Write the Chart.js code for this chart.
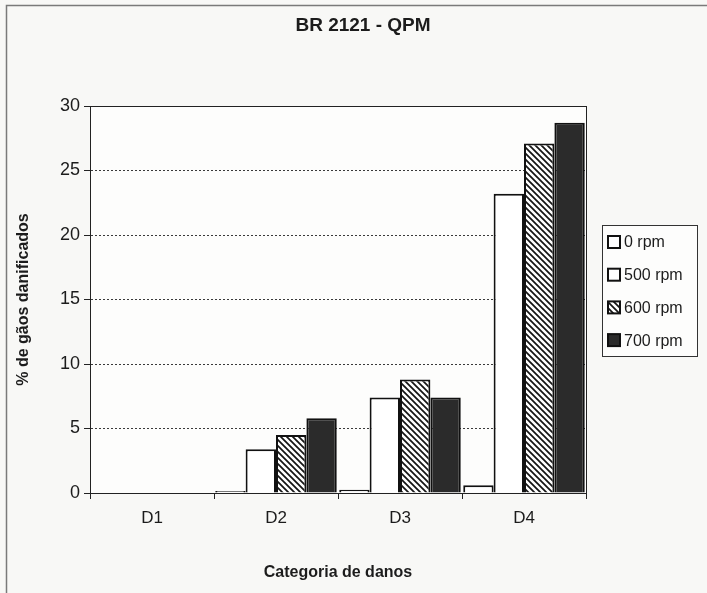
<!DOCTYPE html>
<html>
<head>
<meta charset="utf-8">
<script src="https://cdn.jsdelivr.net/npm/chart.js@4.4.1/dist/chart.umd.min.js"></script>
<style>
  html, body { margin: 0; padding: 0; background: #f8f8f6; }
  #wrap { width: 707px; height: 593px; }
</style>
</head>
<body>
<div id="wrap"><canvas id="chart" width="707" height="593"></canvas></div>
<script>
// values
const categories = ["D1", "D2", "D3", "D4"];
const seriesLabels = ["0 rpm", "500 rpm", "600 rpm", "700 rpm"];
const rpm0 = [0, 0.15, 0.25, 0.6];
const rpm500 = [0, 3.4, 7.4, 23.2];
const rpm600 = [0, 4.5, 8.8, 27.1];
const rpm700 = [0, 5.8, 7.4, 28.7];
const yMin = 0;
const yMax = 30;
const yStep = 5;
const chartTitle = "BR 2121 - QPM";

const FONT = "'Liberation Sans', Arial, sans-serif";
const INK = "#1c1c1c";

(function initChart() {
  const canvas = document.getElementById("chart");
  const ctx = canvas.getContext("2d");

  function hatchPattern() {
    const tile = document.createElement("canvas");
    tile.width = 6;
    tile.height = 6;
    const g = tile.getContext("2d");
    g.fillStyle = "#ffffff";
    g.fillRect(0, 0, 6, 6);
    g.strokeStyle = "#151515";
    g.lineWidth = 1.7;
    g.beginPath();
    g.moveTo(-1, -1); g.lineTo(7, 7);
    g.moveTo(-1, 5); g.lineTo(1, 7);
    g.moveTo(5, -1); g.lineTo(7, 1);
    g.stroke();
    return ctx.createPattern(tile, "repeat");
  }

  const fills = ["#ffffff", "#ffffff", hatchPattern(), "#2b2b2b"];
  const values = [rpm0, rpm500, rpm600, rpm700];

  const datasets = values.map((data, i) => ({
    label: seriesLabels[i],
    data: data,
    backgroundColor: fills[i],
    borderColor: "#111111",
    borderWidth: 2,
    categoryPercentage: 0.98,
    barPercentage: 1.0
  }));

  const frame = {
    id: "frame",
    beforeDraw(chart) {
      const c = chart.ctx;
      c.save();
      c.fillStyle = "#f8f8f6";
      c.fillRect(0, 0, chart.width, chart.height);
      const a = chart.chartArea;
      c.fillStyle = "#fdfdfc";
      c.fillRect(a.left, a.top, a.right - a.left, a.bottom - a.top);
      c.restore();
    },
    afterDraw(chart) {
      const c = chart.ctx;
      const a = chart.chartArea;
      c.save();
      // page border of the original chart object
      c.strokeStyle = "#7a7a7a";
      c.lineWidth = 1.5;
      c.beginPath();
      c.moveTo(6.5, chart.height);
      c.lineTo(6.5, 5.5);
      c.lineTo(chart.width, 5.5);
      c.stroke();
      // plot frame
      c.strokeStyle = "#222222";
      c.lineWidth = 1;
      c.strokeRect(Math.round(a.left) + 0.5, Math.round(a.top) + 0.5,
        Math.round(a.right - a.left), Math.round(a.bottom - a.top));

      // title, centred on the whole chart object (which runs past the page)
      c.fillStyle = INK;
      c.font = "bold 19px " + FONT;
      c.textAlign = "center";
      c.textBaseline = "middle";
      c.fillText(chartTitle, 363, 26);

      // boxed legend on the right
      const bx = 602, by = 225, bw = 95, bh = 131;
      c.textAlign = "left";
      c.strokeStyle = "#333333";
      c.lineWidth = 1;
      c.fillStyle = "#fdfdfc";
      c.fillRect(bx, by, bw, bh);
      c.strokeRect(bx + 0.5, by + 0.5, bw, bh);
      c.font = "16px " + FONT;
      chart.data.datasets.forEach((ds, i) => {
        const cy = by + 17 + i * 32.7;
        c.fillStyle = ds.backgroundColor;
        c.fillRect(608, cy - 6, 12, 12);
        c.strokeStyle = "#111111";
        c.lineWidth = 2;
        c.strokeRect(608, cy - 6, 12, 12);
        c.fillStyle = INK;
        c.fillText(ds.label, 624, cy + 1);
      });
      c.restore();
    }
  };

  new Chart(ctx, {
    type: "bar",
    data: { labels: categories, datasets: datasets },
    plugins: [frame],
    options: {
      responsive: false,
      animation: false,
      layout: { padding: { left: 10, right: 121, top: 106, bottom: 7 } },
      scales: {
        x: {
          offset: true,
          grid: {
            offset: true,
            drawOnChartArea: false,
            drawTicks: true,
            tickLength: 6,
            tickColor: "#222222"
          },
          border: { display: true, color: "#111111", width: 1 },
          ticks: {
            color: INK,
            padding: 9,
            font: { family: FONT, size: 17 }
          },
          title: {
            display: true,
            text: "Categoria de danos",
            color: INK,
            padding: { top: 4, bottom: 4 },
            font: { family: FONT, size: 16, weight: "bold" }
          },
          afterFit(scale) { scale.height = 93; }
        },
        y: {
          min: yMin,
          max: yMax,
          grid: {
            color: (c) => (c.tick && (c.tick.value === yMin || c.tick.value === yMax)) ? "rgba(0,0,0,0)" : "#3a3a3a",
            lineWidth: 1,
            drawTicks: true,
            tickLength: 6,
            tickColor: "#222222",
            tickBorderDash: []
          },
          border: { display: true, color: "#111111", width: 1, dash: [2, 2] },
          ticks: {
            stepSize: yStep,
            color: INK,
            padding: 4,
            font: { family: FONT, size: 18 }
          },
          title: {
            display: true,
            text: "% de gãos danificados",
            color: INK,
            padding: { top: 4, bottom: 4 },
            font: { family: FONT, size: 16, weight: "bold" }
          },
          afterFit(scale) { scale.width = 80; }
        }
      },
      plugins: {
        legend: { display: false },
        tooltip: { enabled: false },
        title: { display: false }
      }
    }
  });
})();
</script>
</body>
</html>
